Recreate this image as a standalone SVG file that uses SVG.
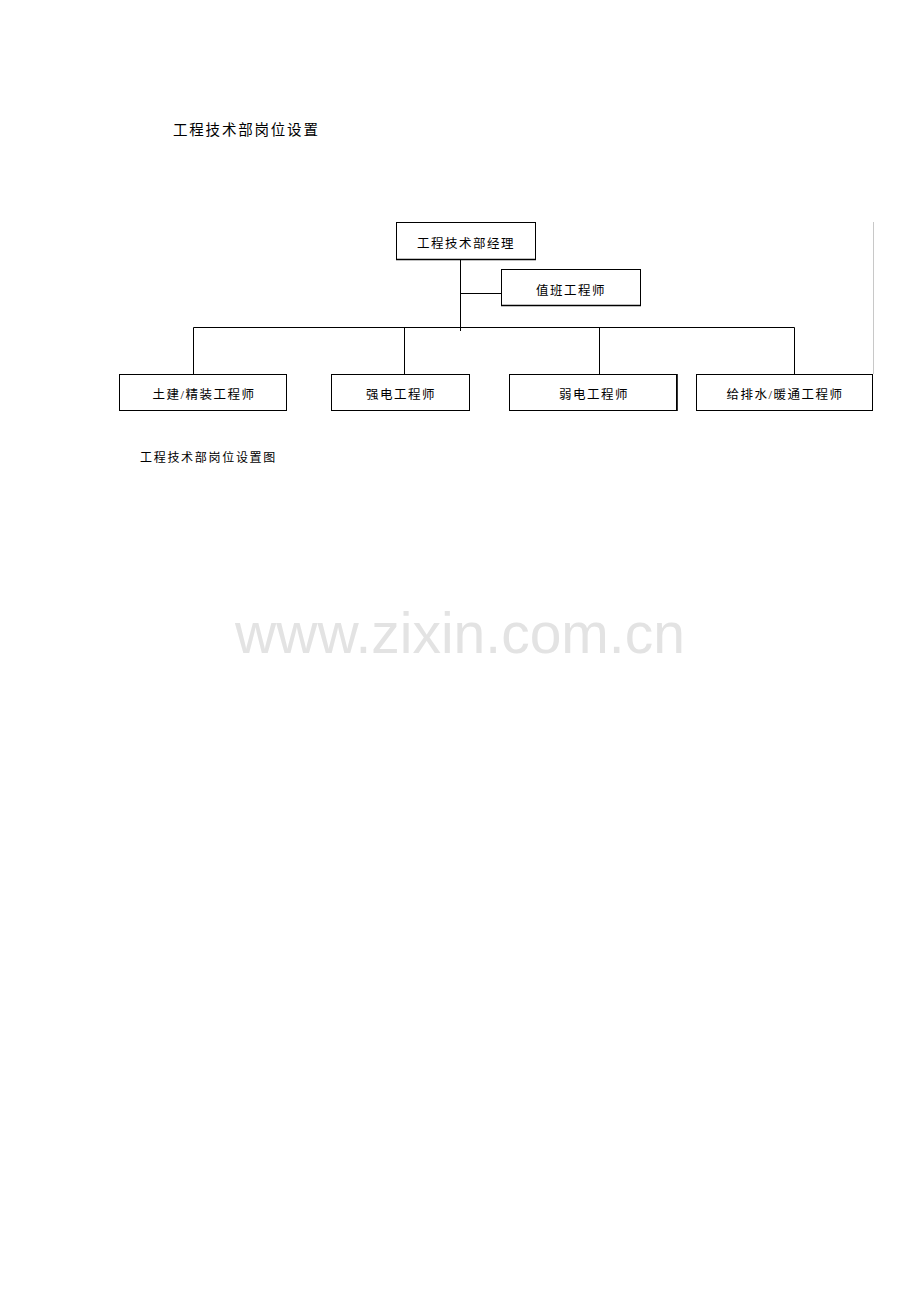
<svg xmlns="http://www.w3.org/2000/svg" width="920" height="1302" viewBox="0 0 920 1302">
<style>
.t{font-family:"Liberation Serif","Noto Sans CJK SC",serif;fill:#000}
.b{fill:#fff;stroke:#000;stroke-width:1}
.s{stroke:#000;stroke-width:1.6}
.l{stroke:#000;stroke-width:1;fill:none}
.lab{font-size:12.5px;letter-spacing:1.5px;text-anchor:middle}
</style>
<rect width="920" height="1302" fill="#fff"/>
<text class="t" x="173" y="135" font-size="14.5" letter-spacing="1.8">工程技术部岗位设置</text>
<line x1="873.5" y1="222" x2="873.5" y2="374" stroke="#c8c8c8" stroke-width="1"/>
<g id="connectors">
<path class="l" d="M460.5 260V331M460.5 293.5H501M193.5 327.5H794.5M193.5 327.5V374M404.5 327.5V374M599.5 327.5V374M794.5 327.5V374"/>
</g>
<g id="n1"><rect class="b" x="396.5" y="222.5" width="139" height="37"/><line class="s" x1="396" y1="259.5" x2="536" y2="259.5"/><text class="t lab" x="466" y="248">工程技术部经理</text></g>
<g id="n2"><rect class="b" x="501.5" y="269.5" width="139" height="36"/><line class="s" x1="501" y1="305.5" x2="641" y2="305.5"/><text class="t lab" x="571" y="295">值班工程师</text></g>
<g id="n3"><rect class="b" x="119.5" y="374.5" width="167" height="36"/><text class="t lab" x="204" y="399">土建/精装工程师</text></g>
<g id="n4"><rect class="b" x="331.5" y="374.5" width="138" height="36"/><text class="t lab" x="401" y="399">强电工程师</text></g>
<g id="n5"><rect class="b" x="509.5" y="374.5" width="167" height="36"/><line class="s" x1="677" y1="374" x2="677" y2="411"/><text class="t lab" x="594" y="399">弱电工程师</text></g>
<g id="n6"><rect class="b" x="696.5" y="374.5" width="176" height="36"/><text class="t lab" x="785" y="399">给排水/暖通工程师</text></g>
<text class="t" x="140" y="462" font-size="12" letter-spacing="1.7">工程技术部岗位设置图</text>
<text x="460" y="653" font-family="Liberation Sans,Arial,sans-serif" font-size="57" fill="#e3e3e3" text-anchor="middle">www.zixin.com.cn</text>
</svg>
